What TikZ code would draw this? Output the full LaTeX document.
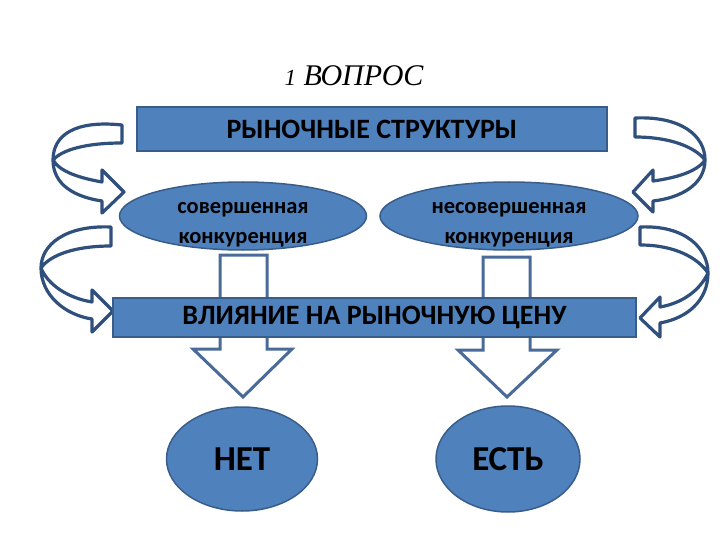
\documentclass[tikz,border=0pt]{standalone}
\usepackage{fontspec}
\setmainfont{Carlito}
\newfontfamily\titlefont{Liberation Serif}
\usetikzlibrary{shapes.geometric}
\definecolor{boxfill}{HTML}{4F81BD}
\definecolor{boxline}{HTML}{385D8A}
\definecolor{curvline}{HTML}{2F4F7C}
\definecolor{downline}{HTML}{4A6A9A}
\tikzset{
  bluebox/.style={draw=boxline, line width=1.5pt, fill=boxfill, inner sep=0pt, font=\bfseries\fontsize{28}{30}\selectfont},
  blueoval/.style={ellipse, draw=boxline, line width=1.5pt, fill=boxfill, inner sep=0pt},
  curvarrow/.style={draw=curvline, line width=3.2pt, fill=white, line join=round},
  downarrow/.style={draw=downline, line width=3pt, fill=white, line join=miter}
}
\newcommand\ovaltext[2]{\smash{\raisebox{-12pt}{\begin{tabular}{@{}c@{}}#1\\#2\end{tabular}}}}
\begin{document}
\begin{tikzpicture}[x=1pt, y=-1pt]
\useasboundingbox (0,0) rectangle (720,540);
% title
\node (title) at (354,76) {\titlefont\itshape\fontsize{30}{32}\selectfont{\fontsize{23}{24}\selectfont 1} ВОПРОС};
% curved arrows
\path[curvarrow] (122,125) .. controls (75,120) and (53,135) .. (53,160) .. controls (53,185) and (75,197) .. (102,201) -- (102,213) -- (124,192) -- (102,170) -- (102,182) .. controls (80,178) and (60,172) .. (53,160) .. controls (62,150) and (85,143) .. (122,143) -- cycle;
\path[curvarrow] (111,227) .. controls (65,225) and (41,245) .. (41,268) .. controls (41,295) and (65,315) .. (92,319) -- (92,332) -- (113,311) -- (92,290) -- (92,302) .. controls (68,298) and (48,285) .. (41,268) .. controls (50,255) and (75,246) .. (111,246) -- cycle;
\path[curvarrow] (635,118) .. controls (680,116) and (705,135) .. (705,160) .. controls (705,185) and (680,198) .. (653,201) -- (653,212) -- (633,192) -- (653,170) -- (653,181) .. controls (675,178) and (697,172) .. (705,160) .. controls (695,147) and (670,137) .. (635,137) -- cycle;
\path[curvarrow] (640,227) .. controls (685,225) and (708,248) .. (708,273) .. controls (708,300) and (688,318) .. (660,323) -- (660,337) -- (640,318) -- (660,297) -- (660,307) .. controls (683,303) and (700,290) .. (708,273) .. controls (698,258) and (675,245) .. (640,245) -- cycle;
% down arrows
\path[downarrow] (220,255) -- (267,255) -- (267,349) -- (292,349) -- (243,397) -- (193,349) -- (220,349) -- cycle;
\path[downarrow] (483,257) -- (530,257) -- (530,350) -- (557,350) -- (507,397) -- (458,350) -- (483,350) -- cycle;
% boxes
\node[bluebox, minimum width=470pt, minimum height=44pt] (market) at (372,129) {РЫНОЧНЫЕ СТРУКТУРЫ};
\node[bluebox, minimum width=523pt, minimum height=39pt] (price) at (374.5,317.5) {ВЛИЯНИЕ НА РЫНОЧНУЮ ЦЕНУ};
% ovals
\node[blueoval, minimum width=247pt, minimum height=68pt, font=\bfseries\fontsize{22.5}{30}\selectfont] (perfect) at (243,216) {\ovaltext{совершенная}{конкуренция}};
\node[blueoval, minimum width=258pt, minimum height=68pt, font=\bfseries\fontsize{22.5}{30}\selectfont] (imperfect) at (509,216) {\ovaltext{несовершенная}{конкуренция}};
\node[blueoval, minimum width=151pt, minimum height=104pt, font=\bfseries\fontsize{35}{40}\selectfont] (no) at (242,459) {НЕТ};
\node[blueoval, minimum width=144pt, minimum height=106pt, font=\bfseries\fontsize{35}{40}\selectfont] (yes) at (508,459) {ЕСТЬ};
\end{tikzpicture}
\end{document}
